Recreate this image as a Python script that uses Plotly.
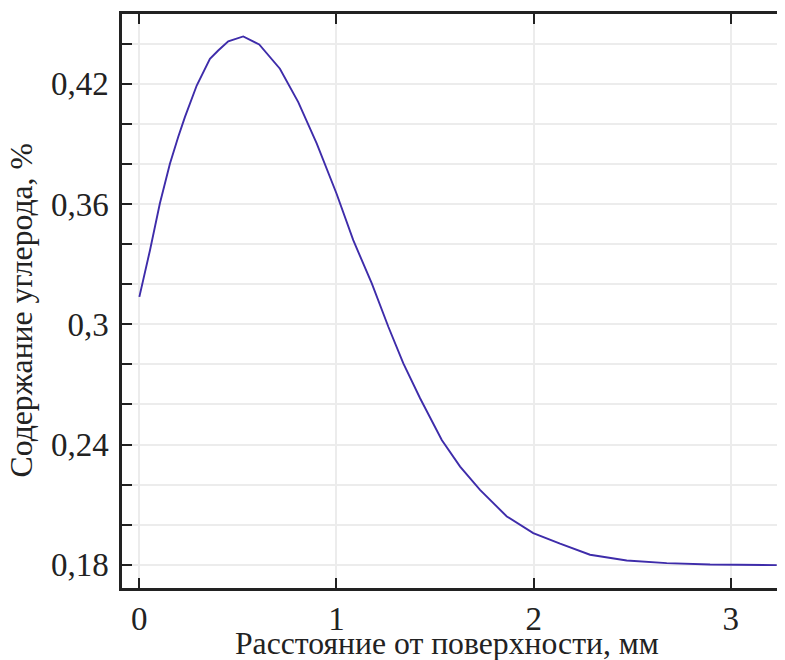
import plotly.graph_objects as go

distance_mm = [0.0, 0.054, 0.104, 0.155, 0.197, 0.231, 0.291, 0.358, 0.40, 0.451,
               0.527, 0.608, 0.713, 0.806, 0.9, 1.0, 1.085, 1.179, 1.263, 1.339,
               1.424, 1.534, 1.627, 1.728, 1.864, 1.998, 2.134, 2.286, 2.472, 2.675,
               2.895, 3.233]
carbon_pct = [0.3137, 0.337, 0.3603, 0.3802, 0.3935, 0.4034, 0.4192, 0.4325, 0.4367, 0.4413,
              0.4437, 0.4397, 0.4276, 0.4109, 0.3902, 0.3653, 0.342, 0.3204, 0.2988, 0.2805,
              0.2631, 0.2423, 0.229, 0.2174, 0.2041, 0.1958, 0.1905, 0.185, 0.1821, 0.1808,
              0.1801, 0.1798]

y_tickvals = [0.18, 0.20, 0.22, 0.24, 0.26, 0.28, 0.30, 0.32, 0.34, 0.36, 0.38, 0.40, 0.42, 0.44]
y_ticktext = ["0,18", "", "", "0,24", "", "", "0,3", "", "", "0,36", "", "", "0,42", ""]
x_tickvals = [0, 1, 2, 3]
x_ticktext = ["0", "1", "2", "3"]

x_title = "Расстояние от поверхности, мм"
y_title = "Содержание углерода, %"

font = "Times New Roman"
txt = "#222"
fs_tick = 33
fs_title = 31.7

fig = go.Figure()
fig.add_trace(go.Scatter(x=distance_mm, y=carbon_pct, mode="lines",
                         line=dict(color="rgb(62,44,170)", width=1.9),
                         showlegend=False))

# page body has an 8px default margin; figure sized to fill the remaining window
fig.update_layout(
    width=777, height=652,
    margin=dict(l=114, r=0, t=6, b=72),
    paper_bgcolor="white", plot_bgcolor="white",
    font=dict(family=font, size=fs_tick, color=txt),
)
fig.update_xaxes(
    range=[-0.088, 3.275], automargin=False,
    tickvals=x_tickvals, ticktext=x_ticktext,
    ticks="inside", ticklen=10, tickwidth=2, tickcolor=txt,
    showline=True, linewidth=2.5, linecolor=txt, mirror="ticks",
    showgrid=True, gridcolor="#ececec", gridwidth=1.5,
    zeroline=False,
    tickfont=dict(family=font, size=fs_tick, color=txt),
)
fig.update_yaxes(
    range=[0.1684, 0.4549], automargin=False,
    tickvals=y_tickvals, ticktext=y_ticktext,
    ticks="inside", ticklen=10, tickwidth=2, tickcolor=txt,
    showline=True, linewidth=2.5, linecolor=txt, mirror=False,
    showgrid=True, gridcolor="#ececec", gridwidth=1.5,
    zeroline=False, ticklabelstandoff=4,
    tickfont=dict(family=font, size=fs_tick, color=txt),
)
fig.add_annotation(text=x_title, xref="paper", yref="paper", x=0.49, y=-0.097,
                   xanchor="center", yanchor="middle", showarrow=False,
                   font=dict(family=font, size=fs_title, color=txt))
fig.add_annotation(text=y_title, xref="paper", yref="paper", x=-0.152, y=0.484,
                   xanchor="center", yanchor="middle", showarrow=False, textangle=-90,
                   font=dict(family=font, size=fs_title, color=txt))

fig.write_html("out.html")
